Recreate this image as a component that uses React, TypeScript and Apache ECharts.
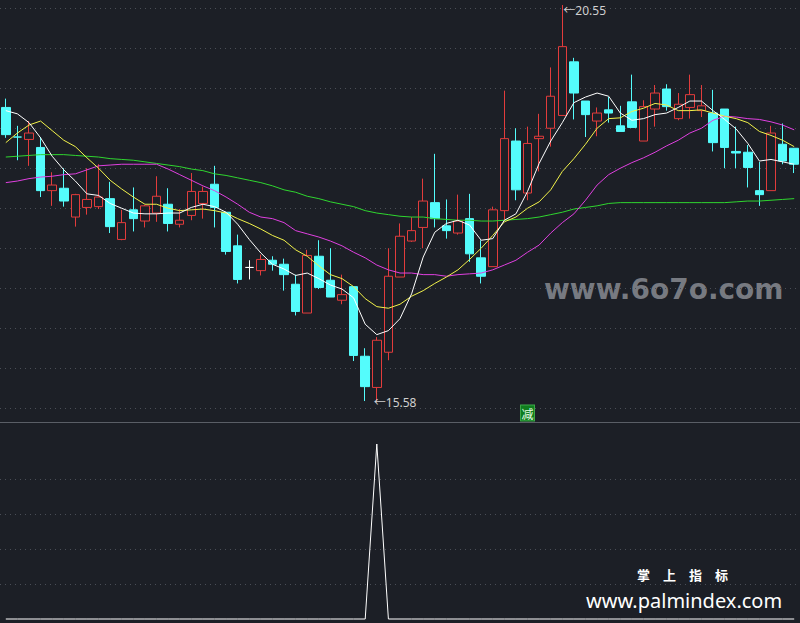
import React, { useEffect, useRef } from "react";
import * as echarts from "echarts";

// Daily candles: [open, close, low, high]
const ohlc: number[][] = [
  [19.27, 18.93, 18.89, 19.38],
  [18.90, 18.90, 18.61, 19.04],
  [18.87, 18.95, 18.54, 19.10],
  [18.77, 18.23, 18.15, 18.90],
  [18.23, 18.30, 18.04, 18.46],
  [18.26, 18.10, 18.03, 18.51],
  [17.90, 18.18, 17.78, 18.19],
  [18.02, 18.12, 17.93, 18.51],
  [18.03, 18.15, 18.00, 18.56],
  [18.13, 17.78, 17.70, 18.34],
  [17.62, 17.83, 17.61, 17.99],
  [17.99, 17.88, 17.72, 18.27],
  [17.85, 18.04, 17.77, 18.05],
  [17.95, 18.16, 17.84, 18.41],
  [18.06, 17.82, 17.72, 18.26],
  [17.81, 17.86, 17.77, 18.00],
  [17.92, 18.22, 17.86, 18.45],
  [18.07, 18.22, 17.88, 18.28],
  [18.31, 18.02, 17.77, 18.54],
  [17.96, 17.47, 17.43, 17.96],
  [17.54, 17.12, 17.07, 17.68],
  [17.27, 17.27, 17.12, 17.36],
  [17.23, 17.37, 17.17, 17.43],
  [17.36, 17.31, 17.23, 17.41],
  [17.31, 17.18, 16.98, 17.38],
  [17.06, 16.72, 16.67, 17.18],
  [16.70, 17.42, 16.70, 17.49],
  [17.41, 17.02, 17.00, 17.61],
  [17.11, 16.90, 16.90, 17.51],
  [16.86, 16.93, 16.81, 17.18],
  [17.03, 16.17, 16.10, 17.03],
  [16.16, 15.78, 15.60, 16.26],
  [15.77, 16.36, 15.58, 16.40],
  [16.21, 17.16, 16.11, 17.51],
  [17.15, 17.66, 17.15, 17.82],
  [17.60, 17.73, 17.59, 17.90],
  [17.77, 18.10, 17.51, 18.38],
  [18.08, 17.88, 17.77, 18.69],
  [17.79, 17.73, 17.63, 18.12],
  [17.70, 17.85, 17.68, 18.18],
  [17.88, 17.44, 17.34, 18.19],
  [17.39, 17.16, 17.07, 17.61],
  [17.28, 17.99, 17.28, 18.03],
  [17.98, 18.88, 17.86, 19.48],
  [18.85, 18.24, 18.11, 19.01],
  [18.20, 18.82, 18.11, 19.03],
  [18.88, 18.91, 18.47, 19.19],
  [19.01, 19.41, 18.78, 19.77],
  [19.17, 20.03, 19.17, 20.55],
  [19.84, 19.45, 19.12, 19.89],
  [19.35, 19.18, 18.90, 19.35],
  [19.10, 19.20, 18.91, 19.27],
  [19.24, 19.20, 19.08, 19.40],
  [19.04, 18.97, 18.97, 19.29],
  [19.34, 19.02, 19.02, 19.68],
  [18.85, 19.28, 18.85, 19.36],
  [19.25, 19.45, 19.03, 19.55],
  [19.50, 19.28, 19.23, 19.56],
  [19.13, 19.31, 19.11, 19.45],
  [19.27, 19.43, 19.13, 19.68],
  [19.23, 19.29, 19.15, 19.55],
  [19.20, 18.83, 18.72, 19.49],
  [19.25, 18.77, 18.51, 19.25],
  [18.72, 18.70, 18.51, 19.03],
  [18.71, 18.52, 18.27, 18.80],
  [18.23, 18.18, 18.04, 18.59],
  [18.23, 18.95, 18.23, 19.04],
  [18.81, 18.60, 18.56, 19.07],
  [18.76, 18.56, 18.45, 18.76],
];

const categories: string[] = ohlc.map((_, i) => "D" + (i + 1));

// Doji candles drawn with their own colour
const dojiColors: Record<number, string> = { 1: "#54fcfc", 21: "#ffffff" };

const ma5 = [
  19.23, 19.19, 19.08, 18.89, 18.66, 18.49, 18.35, 18.19, 18.17, 18.07,
  18.01, 17.95, 17.94, 17.94, 17.95, 17.95, 18.02, 18.06, 18.03, 17.96,
  17.81, 17.62, 17.45, 17.31, 17.25, 17.17, 17.20, 17.13, 17.05, 17.00,
  16.89, 16.56, 16.43, 16.48, 16.63, 16.94, 17.40, 17.71, 17.82, 17.86,
  17.80, 17.61, 17.63, 17.86, 17.94, 18.22, 18.57, 18.85, 19.08, 19.33,
  19.40, 19.45, 19.41, 19.20, 19.11, 19.13, 19.18, 19.20, 19.27, 19.35,
  19.35, 19.23, 19.12, 19.00, 18.82, 18.60, 18.62, 18.59, 18.56,
];

const ma10 = [
  18.83, 18.95, 19.05, 19.10, 18.98, 18.86, 18.78, 18.64, 18.51, 18.36,
  18.25, 18.15, 18.06, 18.06, 18.01, 17.98, 17.99, 18.00, 17.98, 17.95,
  17.88, 17.82, 17.75, 17.67, 17.61, 17.49, 17.41, 17.29, 17.18, 17.13,
  17.03, 16.88, 16.78, 16.76, 16.81, 16.91, 16.98, 17.07, 17.15, 17.24,
  17.37, 17.51, 17.67, 17.84, 17.90, 18.01, 18.09, 18.24, 18.47, 18.63,
  18.81, 19.01, 19.13, 19.14, 19.22, 19.26, 19.32, 19.30, 19.23, 19.23,
  19.24, 19.20, 19.16, 19.13, 19.08, 18.97, 18.92, 18.86, 18.78,
];

const ma30 = [
  18.33, 18.35, 18.38, 18.40, 18.41, 18.43, 18.44, 18.49, 18.54, 18.55,
  18.56, 18.56, 18.56, 18.56, 18.50, 18.43, 18.36, 18.29, 18.23, 18.15,
  18.06, 17.96, 17.90, 17.88, 17.83, 17.73, 17.69, 17.65, 17.60, 17.54,
  17.46, 17.39, 17.30, 17.24, 17.20, 17.20, 17.18, 17.18, 17.16, 17.18,
  17.19, 17.20, 17.24, 17.30, 17.36, 17.46, 17.55, 17.70, 17.83, 17.94,
  18.11, 18.30, 18.43, 18.51, 18.58, 18.64, 18.71, 18.79, 18.86, 18.95,
  19.01, 19.11, 19.16, 19.15, 19.13, 19.12, 19.09, 19.05, 18.99,
];

const ma60 = [
  18.65, 18.66, 18.67, 18.68, 18.68, 18.68, 18.67, 18.66, 18.65, 18.63,
  18.62, 18.61, 18.59, 18.57, 18.55, 18.53, 18.50, 18.48, 18.44, 18.42,
  18.39, 18.36, 18.33, 18.29, 18.24, 18.21, 18.16, 18.13, 18.09, 18.06,
  18.03, 17.98, 17.95, 17.93, 17.91, 17.90, 17.90, 17.88, 17.87, 17.86,
  17.86, 17.85, 17.85, 17.86, 17.87, 17.88, 17.90, 17.93, 17.96, 18.00,
  18.02, 18.04, 18.07, 18.08, 18.08, 18.08, 18.08, 18.08, 18.08, 18.08,
  18.08, 18.08, 18.08, 18.09, 18.10, 18.10, 18.11, 18.12, 18.13,
];

// Lower indicator: 1 on the signal day
const signal = [
  0, 0, 0, 0, 0, 0, 0, 0, 0, 0,
  0, 0, 0, 0, 0, 0, 0, 0, 0, 0,
  0, 0, 0, 0, 0, 0, 0, 0, 0, 0,
  0, 0, 1, 0, 0, 0, 0, 0, 0, 0,
  0, 0, 0, 0, 0, 0, 0, 0, 0, 0,
  0, 0, 0, 0, 0, 0, 0, 0, 0, 0,
  0, 0, 0, 0, 0, 0, 0, 0, 0,
];

const highPoint = { index: 48, value: 20.55 };
const lowPoint = { index: 32, value: 15.58 };
const reduceMark = { index: 45, value: 15.45, text: "减" };

const BG = "#1c1f26";
const RED = "#e23c3c";
const CYAN = "#54fcfc";
const GRIDC = "#4a4e57";
const FONT = '"Noto Sans", "Noto Sans CJK SC", sans-serif';

export default function App() {
  const ref = useRef<HTMLDivElement>(null);
  useEffect(() => {
    document.body.style.margin = "0";
    document.body.style.background = BG;
    const chart = echarts.init(ref.current!, undefined, { renderer: "svg" });
    const candleData = ohlc.map((v, i) =>
      dojiColors[i]
        ? {
            value: v,
            itemStyle: {
              color: dojiColors[i],
              color0: dojiColors[i],
              borderColor: dojiColors[i],
              borderColor0: dojiColors[i],
              borderColorDoji: dojiColors[i],
            },
          }
        : v
    );
    const dotted = { color: GRIDC, type: [1, 4] as any, width: 1 };
    const gridAxis = (gridIndex: number, max: number) => ({
      type: "value",
      gridIndex,
      min: 0,
      max,
      interval: 1,
      axisLine: { show: false },
      axisTick: { show: false },
      axisLabel: { show: false },
      splitLine: { show: true, lineStyle: dotted },
    });
    const lineSeries = (data: number[], color: string) => ({
      type: "line",
      data,
      xAxisIndex: 0,
      yAxisIndex: 0,
      showSymbol: false,
      symbol: "none",
      clip: false,
      lineStyle: { color, width: 1 },
      silent: true,
    });
    chart.setOption({
      animation: false,
      backgroundColor: BG,
      grid: [
        { left: 0, right: 0, top: 0, height: 422 },
        { left: 0, right: 0, top: 8, height: 400 },
        { left: 0, right: 0, top: 444, height: 175 },
        { left: 0, right: 0, top: 479, height: 105 },
      ],
      xAxis: [0, 1, 2, 3].map((g) => ({
        type: "category",
        data: categories,
        gridIndex: g,
        show: false,
        boundaryGap: true,
      })),
      yAxis: [
        { type: "value", gridIndex: 0, min: 15.338, max: 20.613, show: false },
        gridAxis(1, 10),
        { type: "value", gridIndex: 2, min: 0, max: 1, show: false },
        gridAxis(3, 3),
      ],
      series: [
        lineSeries(ma60, "#2fd62f"),
        lineSeries(ma30, "#e040e0"),
        lineSeries(ma10, "#f2f24a"),
        lineSeries(ma5, "#ffffff"),
        {
          type: "candlestick",
          data: candleData,
          xAxisIndex: 0,
          yAxisIndex: 0,
          barWidth: 9,
          clip: false,
          itemStyle: {
            color: BG,
            color0: CYAN,
            borderColor: RED,
            borderColor0: CYAN,
            borderWidth: 1,
          },
          markPoint: {
            symbol: "circle",
            symbolSize: 0,
            silent: true,
            label: { show: true, color: "#d0d0d0", fontSize: 12, fontFamily: FONT },
            data: [
              {
                coord: [highPoint.index, highPoint.value],
                label: { formatter: "←" + highPoint.value.toFixed(2), position: "right", distance: 1, offset: [0, 5] },
              },
              {
                coord: [lowPoint.index, lowPoint.value],
                label: { formatter: "←" + lowPoint.value.toFixed(2), position: "right", distance: 1, offset: [-4, 0] },
              },
              {
                coord: [reduceMark.index, reduceMark.value],
                symbol: "rect",
                symbolSize: [14, 16],
                itemStyle: { color: "#0f7d1e", borderColor: "#3fae4a", borderWidth: 1 },
                label: {
                  formatter: reduceMark.text,
                  position: "inside",
                  color: "#e8ffe8",
                  fontSize: 12,
                  fontFamily: '"Noto Sans CJK SC", sans-serif',
                },
              },
            ],
          },
        },
        {
          type: "line",
          data: signal,
          xAxisIndex: 2,
          yAxisIndex: 2,
          showSymbol: false,
          symbol: "none",
          clip: false,
          lineStyle: { color: "#ffffff", width: 1 },
          silent: true,
        },
      ],
      graphic: [
        {
          type: "line",
          shape: { x1: 0, y1: 422.5, x2: 800, y2: 422.5 },
          style: { stroke: "#5a5e66", lineWidth: 1 },
          silent: true,
        },
        {
          type: "text",
          left: 544,
          top: 275,
          style: {
            text: "www.6o7o.com",
            fill: "rgba(150,153,160,0.75)",
            font: 'bold 28px "DejaVu Sans", sans-serif',
          },
          silent: true,
        },
        {
          type: "text",
          left: 637,
          top: 568,
          style: { text: "掌　上　指　标", fill: "#ffffff", font: 'bold 13px "Noto Sans CJK SC", sans-serif' },
          silent: true,
        },
        {
          type: "text",
          left: 586,
          top: 590,
          style: { text: "www.palmindex.com", fill: "#ffffff", font: '20px "Noto Sans", sans-serif' },
          silent: true,
        },
      ],
    });
    return () => chart.dispose();
  }, []);
  return (
    <div
      ref={ref}
      style={{ position: "absolute", left: 0, top: 0, width: 800, height: 623 }}
    />
  );
}
